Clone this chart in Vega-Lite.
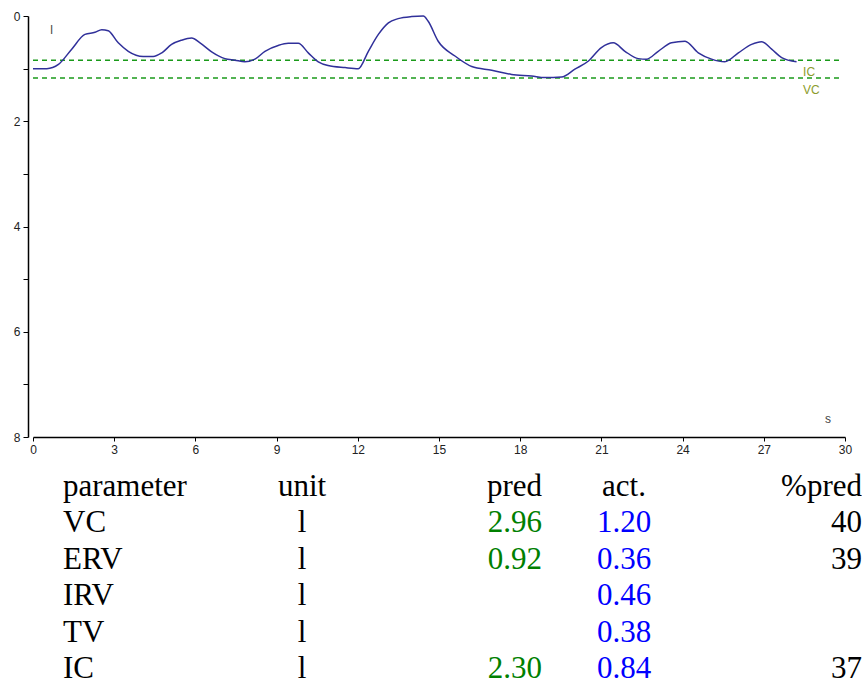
{
  "$schema": "https://vega.github.io/schema/vega-lite/v6.json",
  "padding": {"left": 13, "top": 10, "right": 0, "bottom": 0},
  "bounds": "flush",
  "spacing": 20,
  "config": {"view": {"stroke": null}},
  "vconcat": [
    {
      "width": 812,
      "height": 421,
      "layer": [
        {
          "data": {"values": [{"name": "IC", "v": 0.84}, {"name": "VC", "v": 1.18}]},
          "mark": {"type": "rule", "color": "#1a9a1a", "strokeDash": [5, 4], "strokeWidth": 1.5},
          "encoding": {
            "x": {"datum": 0, "type": "quantitative"},
            "x2": {"datum": 29.8},
            "y": {"field": "v", "type": "quantitative"}
          }
        },
        {
          "data": {"values": [{"name": "IC", "v": 0.84}, {"name": "VC", "v": 1.18}]},
          "mark": {"type": "text", "color": "#8c9c2c", "font": "Liberation Sans", "fontSize": 12, "align": "left", "baseline": "alphabetic", "dy": 16},
          "encoding": {
            "x": {"datum": 28.45, "type": "quantitative"},
            "y": {"field": "v", "type": "quantitative"},
            "text": {"field": "name"}
          }
        },
        {
          "data": {"values": [
            {"t": 0, "v": 1.0}, {"t": 0.51, "v": 1.0}, {"t": 0.94, "v": 0.92}, {"t": 1.43, "v": 0.63},
            {"t": 1.92, "v": 0.35}, {"t": 2.29, "v": 0.31}, {"t": 2.54, "v": 0.26}, {"t": 2.78, "v": 0.28},
            {"t": 3.15, "v": 0.51}, {"t": 3.52, "v": 0.67}, {"t": 4.07, "v": 0.77}, {"t": 4.44, "v": 0.77},
            {"t": 4.76, "v": 0.70}, {"t": 5.12, "v": 0.54}, {"t": 5.49, "v": 0.46}, {"t": 5.86, "v": 0.42},
            {"t": 6.17, "v": 0.51}, {"t": 6.6, "v": 0.68}, {"t": 7.09, "v": 0.81}, {"t": 7.46, "v": 0.84},
            {"t": 7.83, "v": 0.87}, {"t": 8.2, "v": 0.82}, {"t": 8.57, "v": 0.67}, {"t": 9.06, "v": 0.56},
            {"t": 9.43, "v": 0.52}, {"t": 9.8, "v": 0.52}, {"t": 10.17, "v": 0.70}, {"t": 10.54, "v": 0.87},
            {"t": 10.9, "v": 0.94}, {"t": 11.53, "v": 0.98}, {"t": 12.02, "v": 1.0}, {"t": 12.39, "v": 0.67},
            {"t": 12.76, "v": 0.35}, {"t": 13.13, "v": 0.13}, {"t": 13.49, "v": 0.05}, {"t": 13.99, "v": 0.01},
            {"t": 14.42, "v": 0.0}, {"t": 14.6, "v": 0.1}, {"t": 14.97, "v": 0.48}, {"t": 15.59, "v": 0.76},
            {"t": 16.21, "v": 0.96}, {"t": 16.95, "v": 1.03}, {"t": 17.68, "v": 1.11}, {"t": 18.42, "v": 1.14},
            {"t": 18.91, "v": 1.17}, {"t": 19.53, "v": 1.16}, {"t": 20.02, "v": 1.01}, {"t": 20.51, "v": 0.86},
            {"t": 21.0, "v": 0.60}, {"t": 21.44, "v": 0.51}, {"t": 21.87, "v": 0.67}, {"t": 22.36, "v": 0.81},
            {"t": 22.67, "v": 0.82}, {"t": 23.1, "v": 0.67}, {"t": 23.59, "v": 0.51}, {"t": 24.09, "v": 0.48},
            {"t": 24.58, "v": 0.70}, {"t": 25.07, "v": 0.82}, {"t": 25.56, "v": 0.87}, {"t": 26.06, "v": 0.70},
            {"t": 26.55, "v": 0.54}, {"t": 26.92, "v": 0.49}, {"t": 27.29, "v": 0.63}, {"t": 27.66, "v": 0.79},
            {"t": 28.21, "v": 0.87}
          ]},
          "mark": {"type": "line", "color": "#30309a", "strokeWidth": 1.5, "interpolate": "monotone"},
          "encoding": {
            "x": {
              "field": "t", "type": "quantitative",
              "scale": {"domain": [0, 30], "nice": false, "zero": false},
              "axis": {
                "title": null, "values": [0, 3, 6, 9, 12, 15, 18, 21, 24, 27, 30],
                "grid": false, "labelFlush": false, "labelOverlap": false,
                "labelFont": "Liberation Sans", "labelFontSize": 12, "labelColor": "#222222",
                "tickSize": 4, "tickColor": "#000000", "domainColor": "#000000",
                "labelPadding": 3, "domainWidth": 1.5
              }
            },
            "y": {
              "field": "v", "type": "quantitative",
              "scale": {"domain": [0, 8], "reverse": true, "nice": false, "zero": false},
              "axis": {
                "title": null, "values": [0, 1, 2, 3, 4, 5, 6, 7, 8],
                "labelExpr": "datum.value % 2 == 0 ? datum.label : ''",
                "grid": false, "labelFlush": false, "labelOverlap": false,
                "labelFont": "Liberation Sans", "labelFontSize": 12, "labelColor": "#222222",
                "tickSize": 5, "tickColor": "#000000", "domainColor": "#000000",
                "labelPadding": 3, "offset": 5, "domainWidth": 1.5
              }
            }
          }
        },
        {
          "data": {"values": [{"label": "l", "t": 0.69, "v": 0.35}, {"label": "s", "t": 29.37, "v": 7.73}]},
          "mark": {"type": "text", "color": "#444444", "font": "Liberation Sans", "fontSize": 12, "align": "center", "baseline": "alphabetic"},
          "encoding": {
            "x": {"field": "t", "type": "quantitative"},
            "y": {"field": "v", "type": "quantitative"},
            "text": {"field": "label"}
          }
        }
      ]
    },
    {
      "width": 812,
      "height": 222,
      "data": {"values": [
        {"row": 0, "col": 0, "label": "parameter", "kind": "plain"},
        {"row": 0, "col": 1, "label": "unit", "kind": "plain"},
        {"row": 0, "col": 2, "label": "pred", "kind": "plain"},
        {"row": 0, "col": 3, "label": "act.", "kind": "plain"},
        {"row": 0, "col": 4, "label": "%pred", "kind": "plain"},
        {"row": 1, "col": 0, "label": "VC", "kind": "plain"},
        {"row": 1, "col": 1, "label": "l", "kind": "plain"},
        {"row": 1, "col": 2, "label": "2.96", "kind": "pred"},
        {"row": 1, "col": 3, "label": "1.20", "kind": "act"},
        {"row": 1, "col": 4, "label": "40", "kind": "plain"},
        {"row": 2, "col": 0, "label": "ERV", "kind": "plain"},
        {"row": 2, "col": 1, "label": "l", "kind": "plain"},
        {"row": 2, "col": 2, "label": "0.92", "kind": "pred"},
        {"row": 2, "col": 3, "label": "0.36", "kind": "act"},
        {"row": 2, "col": 4, "label": "39", "kind": "plain"},
        {"row": 3, "col": 0, "label": "IRV", "kind": "plain"},
        {"row": 3, "col": 1, "label": "l", "kind": "plain"},
        {"row": 3, "col": 3, "label": "0.46", "kind": "act"},
        {"row": 4, "col": 0, "label": "TV", "kind": "plain"},
        {"row": 4, "col": 1, "label": "l", "kind": "plain"},
        {"row": 4, "col": 3, "label": "0.38", "kind": "act"},
        {"row": 5, "col": 0, "label": "IC", "kind": "plain"},
        {"row": 5, "col": 1, "label": "l", "kind": "plain"},
        {"row": 5, "col": 2, "label": "2.30", "kind": "pred"},
        {"row": 5, "col": 3, "label": "0.84", "kind": "act"},
        {"row": 5, "col": 4, "label": "37", "kind": "plain"}
      ]},
      "encoding": {
        "x": {"field": "col", "type": "quantitative", "axis": null,
              "scale": {"domain": [0, 1, 2, 3, 4], "range": [30, 269, 509, 591, 829], "nice": false, "zero": false}},
        "y": {"field": "row", "type": "quantitative", "axis": null,
              "scale": {"domain": [0, 5], "range": [39, 221], "nice": false, "zero": false}},
        "text": {"field": "label"},
        "color": {"field": "kind", "type": "nominal", "legend": null,
                  "scale": {"domain": ["plain", "pred", "act"], "range": ["#000000", "#008000", "#0000ff"]}}
      },
      "layer": [
        {
          "transform": [{"filter": "datum.col == 0"}],
          "mark": {"type": "text", "font": "Liberation Serif", "fontSize": 31, "align": "left", "baseline": "alphabetic"}
        },
        {
          "transform": [{"filter": "datum.col == 1 || datum.col == 3"}],
          "mark": {"type": "text", "font": "Liberation Serif", "fontSize": 31, "align": "center", "baseline": "alphabetic"}
        },
        {
          "transform": [{"filter": "datum.col == 2 || datum.col == 4"}],
          "mark": {"type": "text", "font": "Liberation Serif", "fontSize": 31, "align": "right", "baseline": "alphabetic"}
        }
      ]
    }
  ]
}
